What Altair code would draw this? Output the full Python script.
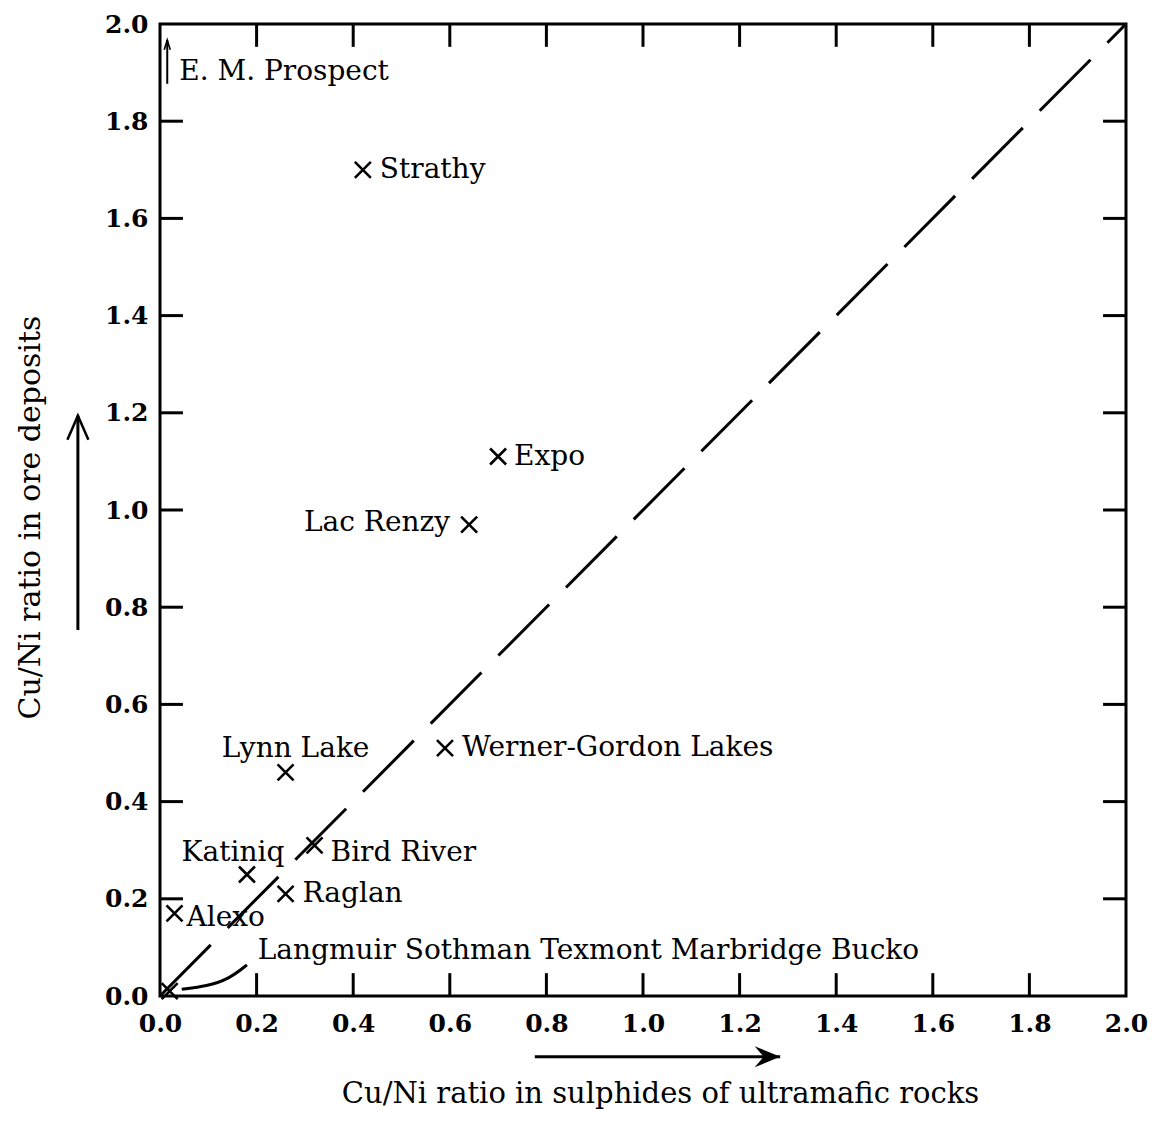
import altair as alt
import pandas as pd

# ---- data ----
deposits = ["Strathy", "Expo", "Lac Renzy", "Werner-Gordon Lakes", "Lynn Lake",
            "Bird River", "Katiniq", "Raglan", "Alexo", "Langmuir"]
cu_ni_ultramafic = [0.42, 0.70, 0.64, 0.59, 0.26, 0.32, 0.18, 0.26, 0.03, 0.02]
cu_ni_ore = [1.70, 1.11, 0.97, 0.51, 0.46, 0.31, 0.25, 0.21, 0.17, 0.01]

tick_values = [0.0, 0.2, 0.4, 0.6, 0.8, 1.0, 1.2, 1.4, 1.6, 1.8, 2.0]
inner_ticks = [0.2, 0.4, 0.6, 0.8, 1.0, 1.2, 1.4, 1.6, 1.8]
equal_line_x = [0.0, 2.0]
equal_line_y = [0.0, 2.0]

group_label = "Langmuir  Sothman  Texmont  Marbridge  Bucko"
em_label = "E. M.  Prospect"
x_title = "Cu/Ni ratio in sulphides of ultramafic rocks"
y_title = "Cu/Ni ratio in ore deposits"

# annotation geometry (data units)
leader_x = [0.045, 0.097, 0.143, 0.18]
leader_y = [0.014, 0.020, 0.035, 0.064]
em_arrow_x = [0.015, 0.015]
em_arrow_y = [1.877, 1.967]
y_arrow_x = [-0.17, -0.17]
y_arrow_y = [0.753, 1.194]
x_arrow_x = [0.776, 1.284]
x_arrow_y = [-0.125, -0.125]

FONT = "DejaVu Serif"
LEFT, TOP, RIGHT, BOTTOM = 152, 16, 24, 120
W, H = 966, 972
TLX = 0.0475  # tick length in x data units
TLY = 0.047
LFS = 28

xs = alt.Scale(domain=[0, 2], nice=False, zero=False)
ys = alt.Scale(domain=[0, 2], nice=False, zero=False)

x_axis = alt.Axis(values=tick_values, format=".1f", tickSize=0, domain=False, grid=False,
                  labelFlush=False, labelOverlap=False, labelFont=FONT, labelFontSize=25,
                  labelFontWeight="bold", labelColor="black", labelPadding=15,
                  titleFont=FONT, titleFontSize=29, titleFontWeight="normal",
                  titleColor="black", titleX=660 - (8 + LEFT), titleY=1093 - (8 + TOP + H),
                  titleBaseline="middle", titleAlign="center")
y_axis = alt.Axis(values=tick_values, format=".1f", tickSize=0, domain=False, grid=False,
                  labelFlush=False, labelOverlap=False, labelFont=FONT, labelFontSize=25,
                  labelFontWeight="bold", labelColor="black", labelPadding=12,
                  titleFont=FONT, titleFontSize=30, titleFontWeight="normal",
                  titleColor="black", titleX=30 - (8 + LEFT), titleY=517 - (8 + TOP),
                  titleBaseline="middle", titleAlign="center", titleAngle=-90)


def X(f="x"):
    return alt.X(f"{f}:Q", scale=xs, axis=x_axis, title=x_title)


def Y(f="y"):
    return alt.Y(f"{f}:Q", scale=ys, axis=y_axis, title=y_title)


df = pd.DataFrame({"name": deposits, "x": cu_ni_ultramafic, "y": cu_ni_ore})

tk = pd.DataFrame({"v": inner_ticks, "lo": [0.0] * len(inner_ticks),
                   "hi": [2.0] * len(inner_ticks)})
tk["lo2"] = tk["lo"] + TLY
tk["hi2"] = tk["hi"] - TLY
tk["lox2"] = tk["lo"] + TLX
tk["hix2"] = tk["hi"] - TLX
tick_style = dict(color="black", strokeWidth=3)
bottom_ticks = alt.Chart(tk).mark_rule(**tick_style).encode(x=X("v"), y=Y("lo"), y2="lo2:Q")
top_ticks = alt.Chart(tk).mark_rule(**tick_style).encode(x=X("v"), y=Y("hi"), y2="hi2:Q")
left_ticks = alt.Chart(tk).mark_rule(**tick_style).encode(y=Y("v"), x=X("lo"), x2="lox2:Q")
right_ticks = alt.Chart(tk).mark_rule(**tick_style).encode(y=Y("v"), x=X("hi"), x2="hix2:Q")

diag = alt.Chart(pd.DataFrame({"x": equal_line_x, "y": equal_line_y})).mark_line(
    color="black", strokeWidth=3, strokeDash=[72, 24]).encode(x=X(), y=Y())

cross = "M-1,-1L1,1M1,-1L-1,1"
points = alt.Chart(df).mark_point(shape=cross, size=256, strokeWidth=2.6, color="black",
                                  filled=False, opacity=1).encode(x=X(), y=Y())

label_specs = {
    "Strathy": dict(dx=17, dy=0, align="left"),
    "Expo": dict(dx=16, dy=0, align="left"),
    "Lac Renzy": dict(dx=-19, dy=-2, align="right"),
    "Werner-Gordon Lakes": dict(dx=17, dy=0, align="left"),
    "Lynn Lake": dict(dx=10, dy=-23, align="center"),
    "Bird River": dict(dx=16, dy=8, align="left"),
    "Katiniq": dict(dx=-14, dy=-22, align="center"),
    "Raglan": dict(dx=17, dy=0, align="left"),
    "Alexo": dict(dx=12, dy=5, align="left"),
}
text_layers = []
for nm, spec in label_specs.items():
    text_layers.append(
        alt.Chart(df).transform_filter(alt.datum.name == nm).mark_text(
            font=FONT, fontSize=LFS, color="black", baseline="middle", **spec
        ).encode(x=X(), y=Y(), text="name:N"))

group_text = alt.Chart(df).transform_filter(alt.datum.name == "Langmuir").mark_text(
    font=FONT, fontSize=LFS, color="black", baseline="middle", align="left", dx=88, dy=-40
).encode(x=X(), y=Y(), text=alt.value(group_label))

leader = alt.Chart(pd.DataFrame({"x": leader_x, "y": leader_y, "o": range(len(leader_x))})).mark_line(
    color="black", strokeWidth=3, interpolate="basis").encode(x=X(), y=Y(), order="o:Q")

em_df = pd.DataFrame({"x": em_arrow_x, "y": em_arrow_y, "o": [0, 1]})
em_shaft = alt.Chart(em_df).mark_line(color="black", strokeWidth=2).encode(x=X(), y=Y(), order="o:Q")
em_head = alt.Chart(em_df.iloc[[1]]).mark_point(
    shape="M-0.5,1.6L0,0L0.5,1.6", size=144, color="black", filled=False, strokeWidth=1.6, opacity=1
).encode(x=X(), y=Y())
em_text = alt.Chart(em_df.iloc[[0]]).mark_text(
    font=FONT, fontSize=LFS, color="black", align="left", baseline="middle", dx=12, dy=-12
).encode(x=X(), y=Y(), text=alt.value(em_label))

ya_df = pd.DataFrame({"x": y_arrow_x, "y": y_arrow_y, "o": [0, 1]})
ya_shaft = alt.Chart(ya_df).mark_line(color="black", strokeWidth=3).encode(x=X(), y=Y(), order="o:Q")
ya_head = alt.Chart(ya_df.iloc[[1]]).mark_point(
    shape="M-0.7,1.6L0,0L0.7,1.6", size=900, color="black", filled=False, strokeWidth=2.5, opacity=1
).encode(x=X(), y=Y())

xa_df = pd.DataFrame({"x": x_arrow_x, "y": x_arrow_y, "o": [0, 1]})
xa_shaft = alt.Chart(xa_df).mark_line(color="black", strokeWidth=3).encode(x=X(), y=Y(), order="o:Q")
xa_head = alt.Chart(xa_df.iloc[[1]]).mark_point(
    shape="M-1.7,-0.7L0,0L-1.7,0.7L-1.1,0Z", size=900, color="black", filled=True, opacity=1
).encode(x=X(), y=Y())

chart = alt.layer(
    bottom_ticks, top_ticks, left_ticks, right_ticks, diag, points,
    *text_layers, group_text, leader, em_shaft, em_head, em_text,
    ya_shaft, ya_head, xa_shaft, xa_head
).properties(
    width=W, height=H,
    autosize=alt.AutoSizeParams(type="none"),
    padding={"left": LEFT, "top": TOP, "right": RIGHT, "bottom": BOTTOM},
    background="white",
).configure_view(stroke="black", strokeWidth=3)

chart.save("out.html", embed_options={"renderer": "svg", "actions": False})
